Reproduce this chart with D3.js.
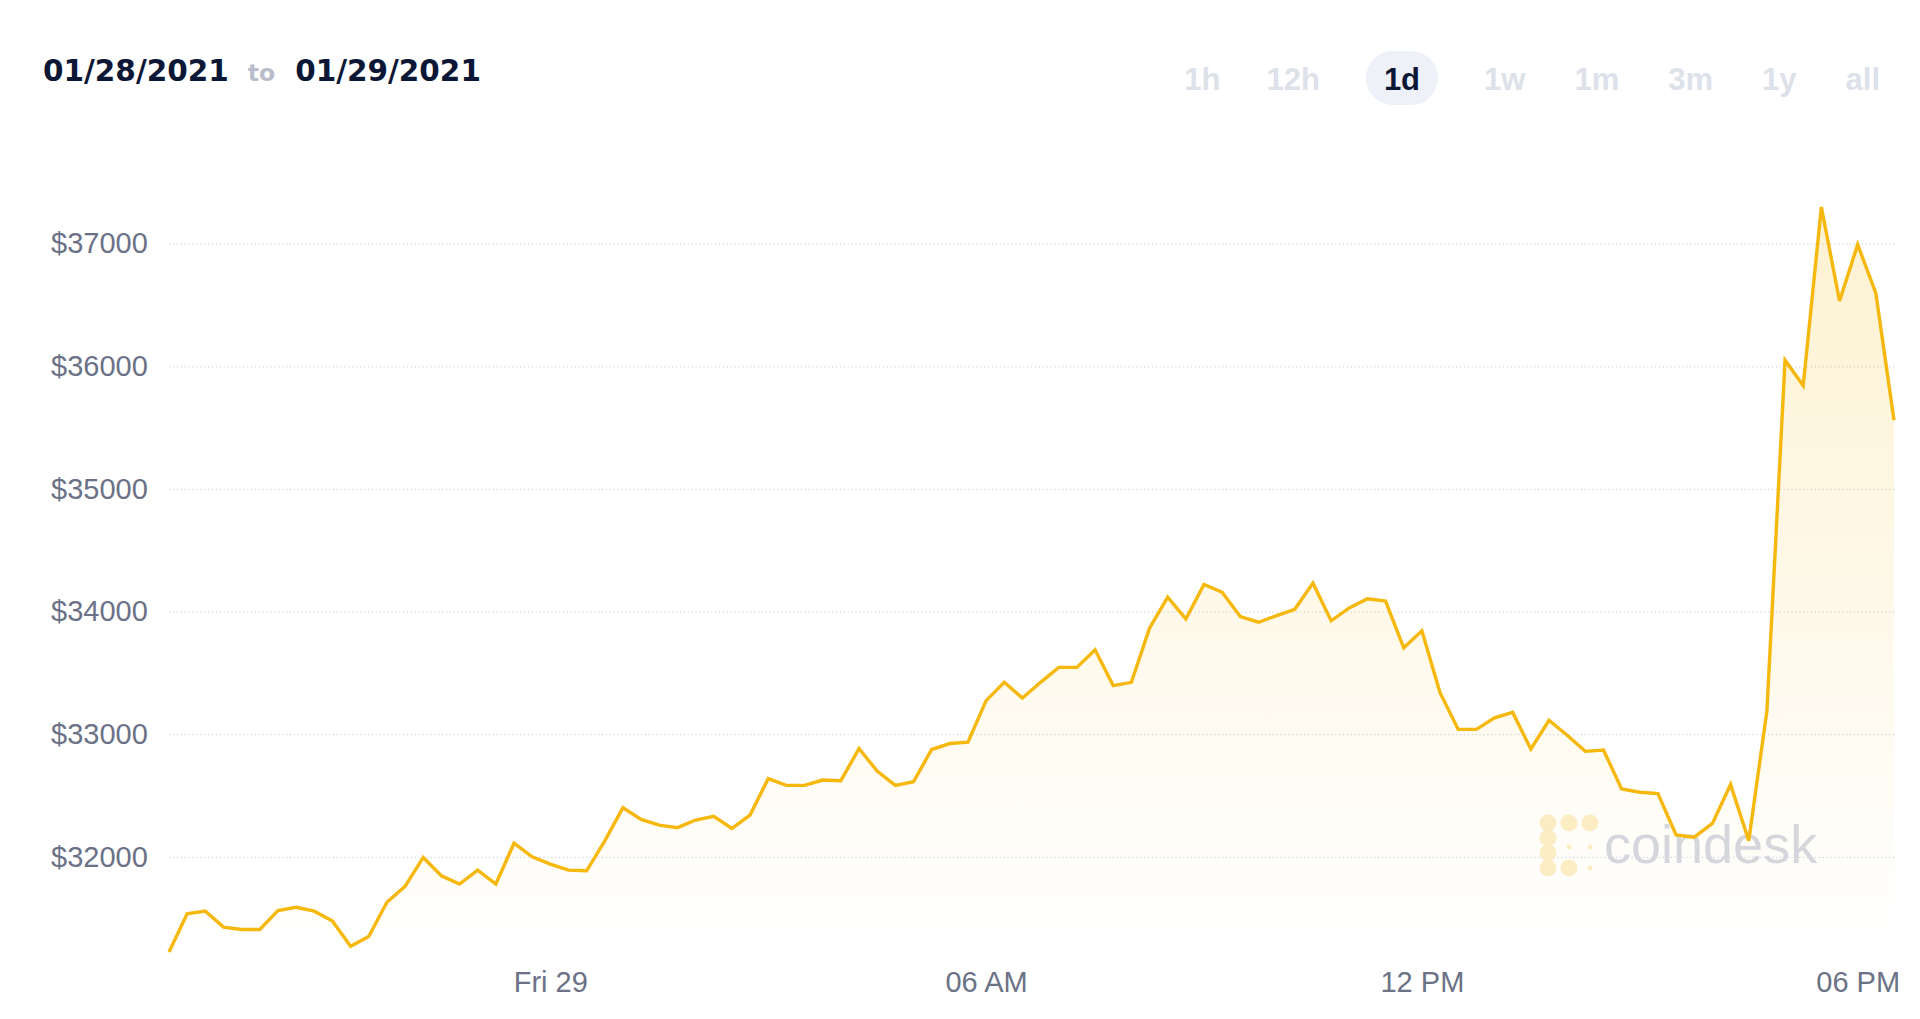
<!DOCTYPE html>
<html>
<head>
<meta charset="utf-8">
<script src="https://cdn.jsdelivr.net/npm/d3@7"></script>
<style>
  html, body { margin: 0; padding: 0; background: #ffffff; }
  svg { display: block; }
</style>
</head>
<body>
<svg id="chart" width="1920" height="1019"></svg>
<script>
// ---------- data ----------
const fromDate = "01/28/2021";
const toDate = "01/29/2021";
const rangeButtons = ["1h", "12h", "1d", "1w", "1m", "3m", "1y", "all"];
const activeRange = "1d";

// 15-minute BTC prices, Jan 28 18:45 -> Jan 29 18:30
const seriesStart = new Date(2021, 0, 28, 18, 45);
const stepMinutes = 15;
const prices = [
  31224, 31535, 31557, 31427, 31408, 31408, 31562, 31589, 31557, 31476,
  31270, 31351, 31630, 31759, 31995, 31846, 31778, 31892, 31778, 32111,
  32000, 31941, 31892, 31886, 32130, 32400, 32305, 32259, 32238, 32300,
  32330, 32232, 32341, 32637, 32583, 32583, 32626, 32621, 32883, 32699,
  32583, 32612, 32875, 32924, 32935, 33274, 33423, 33295, 33423, 33545,
  33545, 33688, 33396, 33423, 33864, 34117, 33940, 34222, 34157, 33959,
  33913, 33967, 34019, 34232, 33925, 34030, 34105, 34086, 33705, 33843,
  33338, 33039, 33039, 33133, 33178, 32879, 33114, 32991, 32860, 32871,
  32553, 32527, 32516, 32179, 32160, 32273, 32590, 32131, 33189, 36049,
  35843, 37299, 36533, 36993, 36596, 35561
];

const yTicks = [32000, 33000, 34000, 35000, 36000, 37000];
const xTickTimes = [
  new Date(2021, 0, 29, 0, 0),
  new Date(2021, 0, 29, 6, 0),
  new Date(2021, 0, 29, 12, 0),
  new Date(2021, 0, 29, 18, 0)
];
const xTickLabels = ["Fri 29", "06 AM", "12 PM", "06 PM"];

// ---------- layout ----------
const plot = { left: 169, right: 1894, top: 207, bottom: 952 };

const data = prices.map((p, i) => ({
  t: d3.timeMinute.offset(seriesStart, i * stepMinutes),
  v: p
}));

const svg = d3.select("#chart");

const x = d3.scaleTime()
  .domain(d3.extent(data, d => d.t))
  .range([plot.left, plot.right]);
const y = d3.scaleLinear()
  .domain(d3.extent(prices))
  .range([plot.bottom, plot.top]);

// gradient
const defs = svg.append("defs");
const grad = defs.append("linearGradient")
  .attr("id", "areaGrad")
  .attr("gradientUnits", "userSpaceOnUse")
  .attr("x1", 0).attr("x2", 0)
  .attr("y1", plot.top).attr("y2", plot.bottom);
grad.append("stop").attr("offset", "0%").attr("stop-color", "#f7c12c").attr("stop-opacity", 0.22);
grad.append("stop").attr("offset", "100%").attr("stop-color", "#f7c12c").attr("stop-opacity", 0.0);

// gridlines
const yAxis = d3.axisLeft(y)
  .tickValues(yTicks)
  .tickSize(-(plot.right - plot.left))
  .tickPadding(20)
  .tickFormat(d => "$" + d);
const gy = svg.append("g")
  .attr("transform", `translate(${plot.left},0)`)
  .call(yAxis);
gy.select(".domain").remove();
gy.selectAll(".tick line")
  .attr("stroke", "#cfd5e6")
  .attr("stroke-width", 1.3)
  .attr("stroke-dasharray", "1.3,2.6");
gy.selectAll(".tick text")
  .attr("fill", "#6b7286")
  .attr("font-family", "'Liberation Sans', Arial, sans-serif")
  .attr("font-size", 29)
  .attr("text-anchor", "start")
  .attr("x", -118);

// x axis labels
const xAxis = d3.axisBottom(x)
  .tickValues(xTickTimes)
  .tickSize(0)
  .tickPadding(0)
  .tickFormat((d, i) => xTickLabels[i]);
const gx = svg.append("g")
  .attr("transform", `translate(0,${plot.bottom + 19})`)
  .call(xAxis);
gx.select(".domain").remove();
gx.selectAll(".tick text")
  .attr("fill", "#6b7286")
  .attr("font-family", "'Liberation Sans', Arial, sans-serif")
  .attr("font-size", 29)
  .attr("dy", "0.71em");

// watermark
const wm = svg.append("g").attr("class", "watermark");
const logoDots = [
  [0, 0, 8.5], [21, 0, 8.5], [42, 0, 8.5],
  [0, 15, 8.5], [0, 30, 8.5], [0, 45, 8.5],
  [21, 45, 8.5],
  [21, 24, 2.5], [42, 24, 2.5], [42, 45, 2.5]
];
wm.selectAll("circle")
  .data(logoDots)
  .join("circle")
  .attr("cx", d => 1548 + d[0])
  .attr("cy", d => 823 + d[1])
  .attr("r", d => d[2])
  .attr("fill", "#fcebc0")
  .attr("opacity", 0.85);
wm.append("text")
  .attr("x", 1604).attr("y", 863)
  .attr("font-family", "'Liberation Sans', Arial, sans-serif")
  .attr("font-size", 54)
  .attr("fill", "#d3d7e1")
  .text("coindesk");

// area + line
const area = d3.area()
  .x(d => x(d.t))
  .y0(plot.bottom)
  .y1(d => y(d.v));
svg.append("path")
  .datum(data)
  .attr("d", area)
  .attr("fill", "url(#areaGrad)");

const line = d3.line()
  .x(d => x(d.t))
  .y(d => y(d.v));
svg.append("path")
  .datum(data)
  .attr("d", line)
  .attr("fill", "none")
  .attr("stroke", "#f6b80c")
  .attr("stroke-width", 3.4)
  .attr("stroke-linejoin", "miter")
  .attr("stroke-linecap", "butt");

// header: date range
const header = svg.append("text")
  .attr("x", 43).attr("y", 81)
  .attr("font-family", "'DejaVu Sans', sans-serif")
  .attr("font-weight", "bold");
header.append("tspan")
  .attr("font-size", 29.5)
  .attr("fill", "#0c1736")
  .text(fromDate);
header.append("tspan")
  .attr("dx", 19)
  .attr("font-size", 23.5)
  .attr("fill", "#b9bdc9")
  .text("to");
header.append("tspan")
  .attr("dx", 20)
  .attr("font-size", 29.5)
  .attr("fill", "#0c1736")
  .text(toDate);

// range buttons, laid out right-to-left
const btnG = svg.append("g");
const btnTexts = btnG.selectAll("text")
  .data(rangeButtons)
  .join("text")
  .attr("y", 90)
  .attr("font-family", "'Liberation Sans', Arial, sans-serif")
  .attr("font-weight", "bold")
  .attr("font-size", 31)
  .attr("text-anchor", "middle")
  .attr("fill", d => d === activeRange ? "#0c1736" : "#dde1ea")
  .text(d => d);

let cursor = 1880;
const gap = 49;
const pad = 15;
const pillPad = 18;
const widths = [];
btnTexts.each(function () { widths.push(this.getComputedTextLength()); });
for (let i = rangeButtons.length - 1; i >= 0; i--) {
  const isActive = rangeButtons[i] === activeRange;
  const w = widths[i];
  const extra = isActive ? pad : 0;
  cursor -= extra;
  const cx = cursor - w / 2;
  d3.select(btnTexts.nodes()[i]).attr("x", cx);
  if (isActive) {
    btnG.insert("rect", "text")
      .attr("x", cx - w / 2 - pillPad)
      .attr("y", 51)
      .attr("width", w + 2 * pillPad)
      .attr("height", 54)
      .attr("rx", 27)
      .attr("fill", "#eef1f8");
  }
  cursor -= w + extra + (i === 1 ? gap - 3 : gap);
}
</script>
</body>
</html>
